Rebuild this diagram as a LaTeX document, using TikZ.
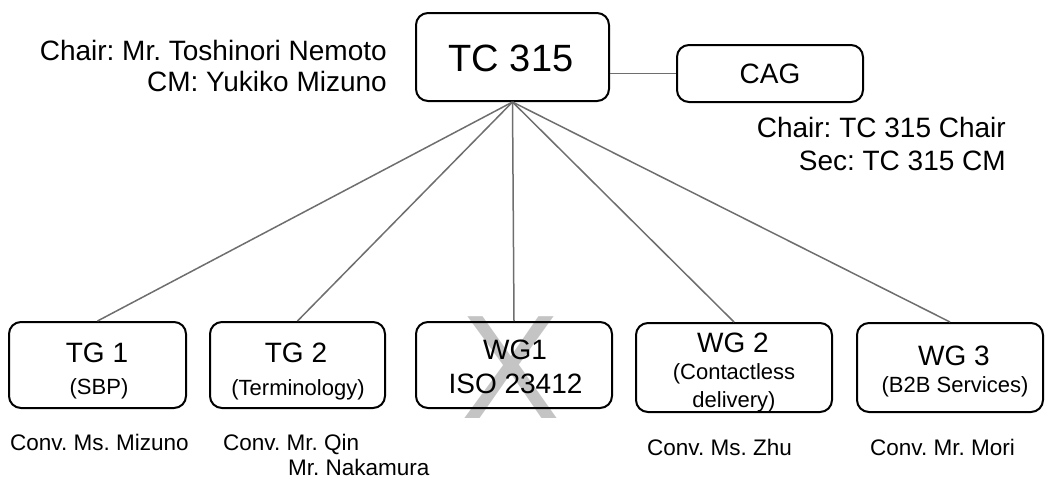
\documentclass[tikz,border=0pt]{standalone}
\usepackage{fontspec}
\setmainfont{Liberation Sans}
\frenchspacing
\definecolor{conncol}{HTML}{6E6E6E}
\definecolor{xcol}{HTML}{C4C4C4}
\tikzset{
  box/.style={draw=black, line width=2pt, rounded corners=12pt, inner sep=0pt},
  conn/.style={draw=conncol, line width=1.5pt},
  txt/.style={inner sep=0pt, text=black},
  big/.style={txt, font=\fontsize{38}{44}\selectfont},
  mid/.style={txt, font=\fontsize{28}{34}\selectfont},
  sml/.style={txt, font=\fontsize{22}{27}\selectfont},
  cnv/.style={txt, font=\fontsize{22.5}{27}\selectfont},
}
\begin{document}
\begin{tikzpicture}[x=1pt,y=-1pt]
\useasboundingbox (0,0) rectangle (1050,480);
% crossed-out mark behind WG1
\node[txt, anchor=base, text=xcol, font=\fontsize{148}{160}\selectfont] (xmark) at (511,418) {X};
% boxes
\node[box, minimum width=193pt, minimum height=88pt] (tc) at (512.5,57) {};
\node[box, minimum width=186pt, minimum height=57pt] (cag) at (770,73.5) {};
\node[box, minimum width=177pt, minimum height=86pt] (tg1) at (97.5,365) {};
\node[box, minimum width=175pt, minimum height=86pt] (tg2) at (297.5,365) {};
\node[box, minimum width=196pt, minimum height=86pt] (wg1) at (514,365) {};
\node[box, minimum width=196pt, minimum height=89pt] (wg2) at (734,367.5) {};
\node[box, minimum width=186pt, minimum height=89pt] (wg3) at (950,367.5) {};
% connectors
\draw[conn] (cag.west -| tc.east) -- (cag.west);
\foreach \b in {tg1,tg2,wg1,wg2,wg3} \draw[conn] (tc.south) -- (\b.north);
% texts in boxes
\node[big, anchor=base] (tct) at (511,71) {TC 315};
\node[mid, anchor=base] (cagt) at (770,83) {CAG};
\node[mid, anchor=base] (tg1a) at (97,362) {TG 1};
\node[sml, anchor=base] (tg1b) at (99,394) {(SBP)};
\node[mid, anchor=base] (tg2a) at (296,362) {TG 2};
\node[sml, anchor=base] (tg2b) at (298,395) {(Terminology)};
\node[mid, anchor=base] (wg1a) at (515,359) {WG1};
\node[mid, anchor=base] (wg1b) at (515.5,393) {ISO 23412};
\node[mid, anchor=base] (wg2a) at (733,352) {WG 2};
\node[sml, anchor=base] (wg2b) at (734,379) {(Contactless};
\node[sml, anchor=base] (wg2c) at (734,407) {delivery)};
\node[mid, anchor=base] (wg3a) at (954,365) {WG 3};
\node[sml, anchor=base] (wg3b) at (955,392) {(B2B Services)};
% side texts
\node[mid, anchor=base east] (chair1) at (387,60) {Chair: Mr. Toshinori Nemoto};
\node[mid, anchor=base east] (cm1) at (387,91) {CM: Yukiko Mizuno};
\node[mid, anchor=base east] (chair2) at (1006,137) {Chair: TC 315 Chair};
\node[mid, anchor=base east] (sec2) at (1006,170) {Sec: TC 315 CM};
% conveners
\node[cnv, anchor=base west] (c1) at (10,450) {Conv. Ms. Mizuno};
\node[cnv, anchor=base west] (c2) at (223,450) {Conv. Mr. Qin};
\node[cnv, anchor=base west] (c2b) at (288,475) {Mr. Nakamura};
\node[cnv, anchor=base west] (c3) at (647,455) {Conv. Ms. Zhu};
\node[cnv, anchor=base west] (c4) at (870,455) {Conv. Mr. Mori};
\end{tikzpicture}
\end{document}
